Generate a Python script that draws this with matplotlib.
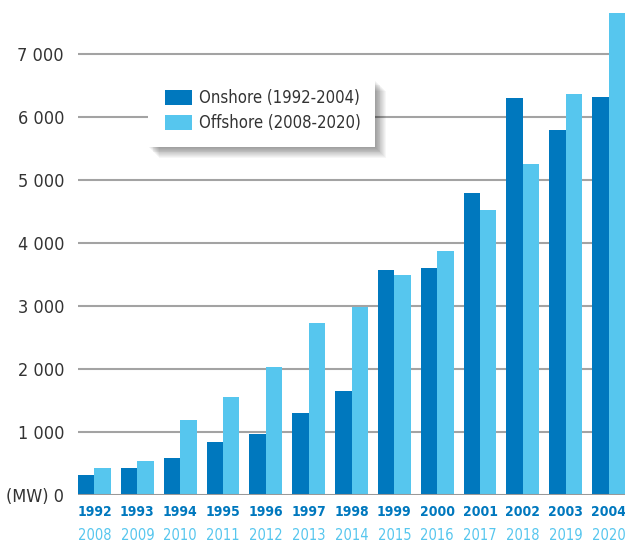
import matplotlib.pyplot as plt
import numpy as np
from matplotlib.patches import Rectangle
from matplotlib.transforms import blended_transform_factory

# data
years_on = ["1992", "1993", "1994", "1995", "1996", "1997", "1998",
            "1999", "2000", "2001", "2002", "2003", "2004"]
years_off = ["2008", "2009", "2010", "2011", "2012", "2013", "2014",
             "2015", "2016", "2017", "2018", "2019", "2020"]
onshore = [320, 430, 590, 840, 970, 1300, 1650, 3570, 3600, 4790, 6300, 5790, 6320]
offshore = [430, 540, 1190, 1550, 2040, 2730, 2990, 3500, 3880, 4530, 5250, 6360, 7650]
yticks = [0, 1000, 2000, 3000, 4000, 5000, 6000, 7000]
ytick_labels = ["(MW) 0", "1 000", "2 000", "3 000", "4 000", "5 000", "6 000", "7 000"]

c_on = "#0078be"
c_off = "#56c6ee"
grid_c = "#a3a3a3"
txt_c = "#333333"

plt.rcParams["font.family"] = ["DejaVu Sans"]
plt.rcParams["font.stretch"] = "condensed"

W, H = 625, 542
fig = plt.figure(figsize=(W / 100, H / 100), dpi=100)
ax = fig.add_axes([78 / W, 1 - 495 / H, 1 - 78 / W, 495 / H])

x = np.arange(len(years_on))
w = 0.385
b1 = ax.bar(x - w / 2, onshore, w, color=c_on, label="Onshore (1992-2004)", zorder=2)
b2 = ax.bar(x + w / 2, offshore, w, color=c_off, label="Offshore (2008-2020)", zorder=2)

# gridlines
for t in yticks[1:]:
    ax.axhline(t, color=grid_c, lw=1.5, zorder=1)
ax.axhline(0, color="#999999", lw=2.2, zorder=3)

ax.set_xlim(-w, len(x) - 1 + w)
ax.set_ylim(0, 7860)

for s in ax.spines.values():
    s.set_visible(False)
ax.set_xticks([])
ax.set_yticks(yticks)
ax.set_yticklabels(ytick_labels, fontsize=13, color=txt_c)
ax.tick_params(axis="y", length=0, pad=10)

# two rows of year labels
tr = blended_transform_factory(ax.transData, fig.transFigure)
for i in range(len(x)):
    ax.text(x[i], 1 - 512 / H, years_on[i], transform=tr, ha="center", va="center",
            fontsize=10, color=c_on, fontweight="bold")
    ax.text(x[i], 1 - 535 / H, years_off[i], transform=tr, ha="center", va="center",
            fontsize=10.5, color=c_off)

# legend box with soft shadow
bx0, by0, bx1, by1 = 148, 80, 375, 147
for k in range(1, 13):
    fig.patches.append(Rectangle(((bx0 + k * 0.9) / W, 1 - (by1 + k * 0.9) / H),
                                 (bx1 - bx0) / W, (by1 - by0) / H,
                                 transform=fig.transFigure, facecolor="black",
                                 edgecolor="none", alpha=0.035, zorder=5))
fig.patches.append(Rectangle((bx0 / W, 1 - by1 / H), (bx1 - bx0) / W, (by1 - by0) / H,
                             transform=fig.transFigure, facecolor="white",
                             edgecolor="none", zorder=6))

leg = fig.legend(handles=[b1, b2], loc="upper left", bbox_to_anchor=(165 / W, 1 - 89 / H),
                 bbox_transform=fig.transFigure, borderaxespad=0, borderpad=0,
                 frameon=False, fontsize=12, handlelength=1.6, handleheight=1.0,
                 handletextpad=0.45, labelspacing=0.45)
leg.set_zorder(10)
for t in leg.get_texts():
    t.set_color(txt_c)

plt.savefig("out.png", dpi=100)
